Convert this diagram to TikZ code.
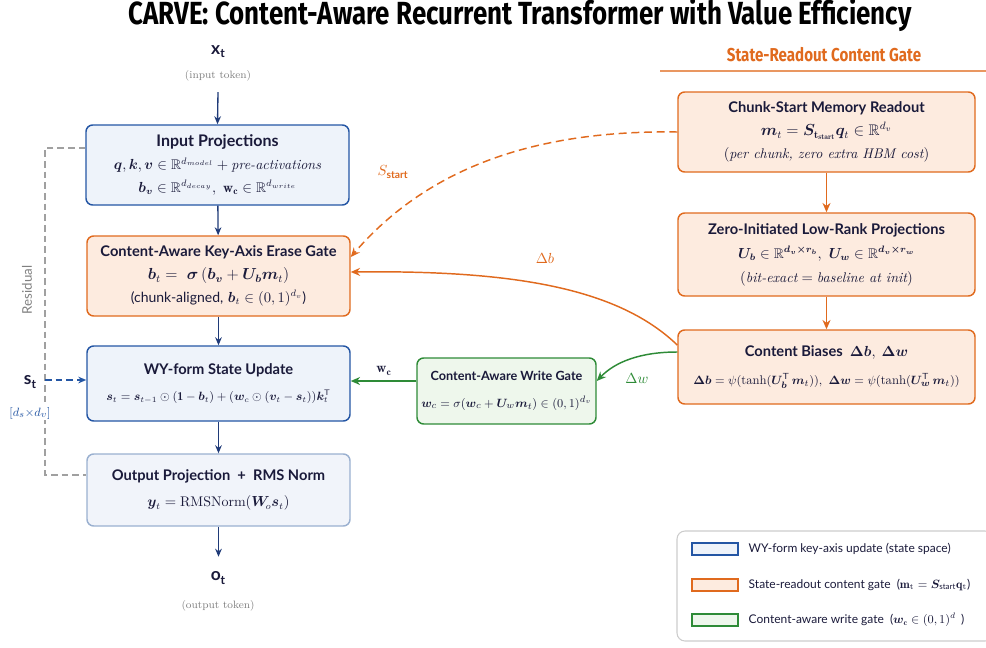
\documentclass[tikz,border=0pt]{standalone}
\usepackage{fontspec}
\usepackage{amsmath,amssymb,bm}
\usetikzlibrary{arrows.meta,calc}
\newfontfamily\titlefont{Fira Sans}[FakeStretch=0.81]
\newfontfamily\boxfont{Lato}
\definecolor{blueB}{HTML}{2456A4}
\definecolor{blueF}{HTML}{EEF3FA}
\definecolor{navy}{HTML}{1F3A78}
\definecolor{orangeB}{HTML}{E06A1E}
\definecolor{orangeF}{HTML}{FDEBDF}
\definecolor{greenB}{HTML}{2E8B37}
\definecolor{greenF}{HTML}{EEF7EC}
\definecolor{grayB}{HTML}{9AB0D0}
\definecolor{grayF}{HTML}{F1F4FA}
\definecolor{ink}{HTML}{1A1A3A}
\definecolor{resgray}{HTML}{A0A0A0}
\begin{document}
\begin{tikzpicture}[x=0.75pt,y=-0.75pt,
  box/.style={draw, rounded corners=5pt, line width=1.1pt, align=center, inner sep=2pt, text=ink, font=\fontsize{10.5}{14}\selectfont},
  bluebox/.style={box, draw=blueB, fill=blueF},
  orbox/.style={box, draw=orangeB, fill=orangeF},
  grbox/.style={box, draw=greenB, fill=greenF},
  outbox/.style={box, draw=grayB, fill=grayF},
  flow/.style={-{Stealth[length=6pt,width=5pt]}, draw=navy, line width=1pt},
  orarrow/.style={-{Stealth[length=7pt,width=6pt]}, draw=orangeB, line width=1.1pt},
  grarrow/.style={-{Stealth[length=7pt,width=6pt]}, draw=greenB, line width=1.1pt},
  resid/.style={draw=resgray, dashed, line width=0.9pt, dash pattern=on 5pt off 3pt},
  swatch/.style={draw, line width=1pt, minimum width=34.5pt, minimum height=9pt, inner sep=0pt},
  lgtext/.style={anchor=west, font=\boxfont\fontsize{9}{11}\selectfont, text=ink}
]
\useasboundingbox (0,0) rectangle (986,647);
\newcommand\bt[1]{{\boxfont\bfseries\fontsize{11}{14}\selectfont #1}}
\newcommand\fs[1]{\fontsize{#1}{14}\selectfont}

% title
\node[font=\titlefont\bfseries\fontsize{24}{26}\selectfont, text=black] (title) at (520,15) {CARVE: Content-Aware Recurrent Transformer with Value Efficiency};

% input
\node[font=\boxfont\bfseries\fontsize{13}{14}\selectfont, text=ink] (xt) at (218,52) {x\raisebox{-0.35ex}{\fontsize{9}{10}\selectfont t}};
\node[font=\fontsize{8}{9}\selectfont, text=gray] (intok) at (218,76) {(input token)};

% main column
\node[bluebox, minimum width=197.25pt, minimum height=60pt] (inproj) at (217.5,165)
 {{\boxfont\bfseries\fontsize{12}{14}\selectfont Input Projections}\\[3pt]
  $\bm{q},\bm{k},\bm{v}\in\mathbb{R}^{d_{model}}+\textit{pre-activations}$\\[3pt]
  $\bm{b_v}\in\mathbb{R}^{d_{decay}},\ \mathbf{w_c}\in\mathbb{R}^{d_{write}}$};
\node[orbox, minimum width=197.25pt, minimum height=60pt] (erase) at (218.5,276)
 {\bt{Content-Aware Key-Axis Erase Gate}\\[3pt]
  {\fs{11.5}$\bm{b}_t=\ \bm{\sigma}\,(\bm{b_v}+\bm{U_b}\bm{m}_t)$}\\[3pt]
  {\boxfont (chunk-aligned,} $\bm{b}_t\in(0,1)^{d_v}${\boxfont )}};
\node[bluebox, minimum width=197.25pt, minimum height=56.25pt] (wy) at (218.5,383.5)
 {\bt{WY-form State Update}\\[6pt]
  {\fs{9}$\bm{s}_t=\bm{s}_{t-1}\odot(\mathbf{1}-\bm{b}_t)+(\bm{w}_c\odot(\bm{v}_t-\bm{s}_{t}))\bm{k}_t^{\mathsf{T}}$}};
\node[outbox, minimum width=197.25pt, minimum height=54pt] (outp) at (218.5,490)
 {\bt{Output Projection \ + \ RMS Norm}\\[6pt]
  $\bm{y}_t=\mathrm{RMSNorm}(\bm{W}_{\!o}\bm{s}_t)$};

\node[font=\boxfont\bfseries\fontsize{13}{14}\selectfont, text=ink] (ot) at (218,578) {o\raisebox{-0.35ex}{\fontsize{9}{10}\selectfont t}};
\node[font=\fontsize{8}{9}\selectfont, text=gray] (outtok) at (218,606) {(output token)};

\draw[flow] (intok.south) ++(0,6) -- (inproj.north);
\draw[flow] (inproj) -- (erase);
\draw[flow] (erase) -- (wy);
\draw[flow] (wy) -- (outp);
\draw[flow] (outp.south) -- ($(outp.south)+(0,30)$);

% residual
\coordinate (r1) at (45,148);
\coordinate (r2) at (45,475);
\coordinate (sj) at (45,380);
\draw[resid] ($(inproj.west)+(0,-17)$) -- (r1) -- (r2) -- ($(outp.west)+(0,-15)$);
\node[rotate=90, font=\boxfont\fontsize{10}{11}\selectfont, text=gray] (reslbl) at (27,290) {Residual};

\node[font=\boxfont\bfseries\fontsize{13}{14}\selectfont, text=ink] (st) at (30,382) {s\raisebox{-0.35ex}{\fontsize{9}{10}\selectfont t}};
\node[font=\fontsize{9.5}{11}\selectfont, text=blueB, fill=white, inner sep=1pt] (dims) at (30,413) {$[d_s{\times}d_v]$};
\draw[flow, draw=blueB, dashed, dash pattern=on 5pt off 3pt] (sj) -- (sj -| wy.west);

% right column
\node[font=\titlefont\bfseries\fontsize{14}{16}\selectfont, text=orangeB] (rhead) at (824,55) {State-Readout Content Gate};
\coordinate (h1) at (660,71);
\coordinate (h2) at (986,71);
\draw[orangeB!70, line width=0.8pt] (h1) -- (h2);

\node[orbox, minimum width=222.75pt, minimum height=60pt] (chunk) at (826.5,132)
 {\bt{Chunk-Start Memory Readout}\\[3pt]
  {\fs{11.5}$\bm{m}_t=\bm{S}_{\mathbf{t_{start}}}\bm{q}_t\in\mathbb{R}^{d_v}$}\\[3pt]
  $(\textit{per chunk, zero extra HBM cost})$};
\node[orbox, minimum width=222.75pt, minimum height=62.25pt] (zero) at (826.5,254.5)
 {\bt{Zero-Initiated Low-Rank Projections}\\[4pt]
  $\bm{U_b}\in\mathbb{R}^{\bm{d_v\times r_b}},\ \bm{U_w}\in\mathbb{R}^{\bm{d_v\times r_w}}$\\[4pt]
  $(\textit{bit-exact} = \textit{baseline at init})$};
\node[orbox, minimum width=222.75pt, minimum height=55.5pt] (bias) at (826.5,367)
 {\bt{Content Biases \ $\bm{\Delta b},\ \bm{\Delta w}$}\\[7pt]
  {\fs{9.5}$\bm{\Delta b}=\psi(\tanh(\bm{U}_{\bm b}^{\mathsf T}\,\bm{m}_t)),\ \bm{\Delta w}=\psi(\tanh(\bm{U}_{\bm w}^{\mathsf T}\,\bm{m}_t))$}};
\node[grbox, minimum width=134.25pt, minimum height=49.5pt, inner xsep=1pt] (wgate) at (506.5,391)
 {{\boxfont\bfseries\fontsize{9.5}{11}\selectfont Content-Aware Write Gate}\\[6pt]
  {\fs{9.5}$\bm{w}_c=\sigma(\bm{w}_c+\bm{U}_w\bm{m}_t)\in(0,1)^{d_v}$}};

\draw[orarrow] (chunk) -- (zero);
\draw[orarrow] (zero) -- (bias);

% curves
\draw[orarrow, dashed, dash pattern=on 6pt off 3.5pt] (chunk.west) .. controls (540,130) and (430,165) .. ($(erase.east)+(0,-19)$);
\node[text=orangeB, font=\fontsize{11}{12}\selectfont] (sslbl) at (393,172) {$S_{\text{\boxfont\bfseries start}}$};
\draw[orarrow] ($(bias.west)+(0,-22)$) .. controls (620,290) and (520,270) .. ($(erase.east)+(0,-4)$);
\node[text=orangeB, font=\fontsize{11}{12}\selectfont] (dblbl) at (545,258) {$\Delta b$};
\draw[grarrow] ($(bias.west)+(0,-15)$) .. controls (640,352) and (615,362) .. ($(wgate.east)+(0,-10)$);
\node[text=greenB, font=\fontsize{11}{12}\selectfont] (dwlbl) at (637,379) {$\Delta w$};
\draw[grarrow] ($(wgate.west)+(0,-10)$) -- ($(wy.east)+(0,-2.5)$);
\node[text=ink, font=\fontsize{10.5}{12}\selectfont] (wclbl) at (384,371) {$\mathbf{w}_\mathbf{c}$};

% legend
\node[draw=black!20, rounded corners=6pt, line width=0.8pt, minimum width=237pt, minimum height=82.5pt, inner sep=0pt] (legend) at (835,586) {};
\node[swatch, draw=blueB, fill=blueF] (sw1) at (715,549) {};
\node[swatch, draw=orangeB, fill=orangeF] (sw2) at (715,585) {};
\node[swatch, draw=greenB, fill=greenF] (sw3) at (715,620) {};
\node[lgtext] (lg1) at (744,549) {WY-form key-axis update (state space)};
\node[lgtext] (lg2) at (744,585) {State-readout content gate \ ($\mathbf{m}_\mathrm{t}=\bm{S}_{\text{start}}\mathbf{q}_\mathrm{t}$)};
\node[lgtext] (lg3) at (744,620) {Content-aware write gate \ ($\bm{w}_\mathbf{c}\in(0,1)^d$ \,)};
\end{tikzpicture}
\end{document}
